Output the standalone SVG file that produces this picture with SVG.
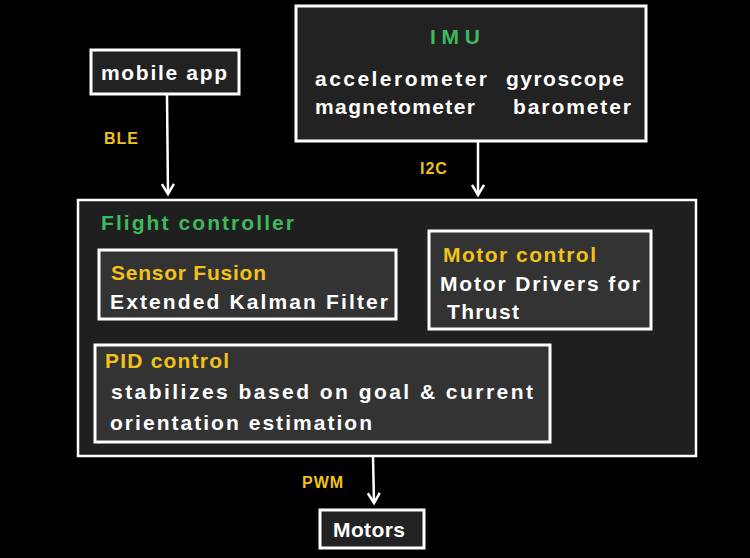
<svg xmlns="http://www.w3.org/2000/svg" width="750" height="558" viewBox="0 0 750 558">
<style>
.box{fill:#222222;stroke:#ffffff;stroke-width:3}
.outer{fill:#1f1f1f;stroke:#ffffff;stroke-width:2.5}
.inner{fill:#333333;stroke:#ffffff;stroke-width:3}
.t{font-family:"Liberation Sans",Arial,sans-serif;font-size:21px;font-weight:bold;fill:#ffffff}
.g{fill:#3dba5c}
.y{fill:#f2c21b}
.lbl{font-family:"Liberation Sans",Arial,sans-serif;font-size:16px;font-weight:bold;fill:#f2c21b;letter-spacing:1px}
.conn{stroke:#ffffff;stroke-width:2.5;fill:none}
</style>
<defs>
<marker id="ah" markerWidth="14" markerHeight="14" refX="11" refY="7" orient="auto" markerUnits="userSpaceOnUse" viewBox="0 0 14 14">
<path d="M1,1 L11,7 L1,13" fill="none" stroke="#ffffff" stroke-width="2.5"/>
</marker>
</defs>
<rect x="0" y="0" width="750" height="558" fill="#000000"/>
<g id="connectors">
<line class="conn" x1="167" y1="95" x2="168" y2="194" marker-end="url(#ah)"/>
<line class="conn" x1="478" y1="142" x2="478" y2="195" marker-end="url(#ah)"/>
<line class="conn" x1="373" y1="457" x2="374" y2="503" marker-end="url(#ah)"/>
<text class="lbl" x="104" y="144">BLE</text>
<text class="lbl" x="420" y="174">I2C</text>
<text class="lbl" x="302" y="488">PWM</text>
</g>
<g id="mobile-app">
<rect class="box" x="91" y="50" width="148" height="44"/>
<text class="t" x="101" y="80" textLength="126">mobile app</text>
</g>
<g id="imu">
<rect class="box" x="296" y="6" width="350" height="135"/>
<text class="t g" x="430" y="44" textLength="50">IMU</text>
<text class="t" x="315" y="86" textLength="172">accelerometer</text>
<text class="t" x="506" y="86" textLength="118">gyroscope</text>
<text class="t" x="315" y="114" textLength="160">magnetometer</text>
<text class="t" x="513" y="114" textLength="118">barometer</text>
</g>
<g id="flight-controller">
<rect class="outer" x="78" y="200" width="618" height="256"/>
<text class="t g" x="101" y="230" textLength="193">Flight controller</text>
</g>
<g id="sensor-fusion">
<rect class="inner" x="99" y="250" width="297" height="69"/>
<text class="t y" x="111" y="280" textLength="155">Sensor Fusion</text>
<text class="t" x="110" y="309" textLength="278">Extended Kalman Filter</text>
</g>
<g id="motor-control">
<rect class="inner" x="429" y="231" width="222" height="98"/>
<text class="t y" x="443" y="262" textLength="153">Motor control</text>
<text class="t" x="440" y="291" textLength="200">Motor Drivers for</text>
<text class="t" x="447" y="319" textLength="72">Thrust</text>
</g>
<g id="pid-control">
<rect class="inner" x="95" y="345" width="455" height="97"/>
<text class="t y" x="105" y="368" textLength="124">PID control</text>
<text class="t" x="111" y="399" textLength="422">stabilizes based on goal &amp; current</text>
<text class="t" x="110" y="430" textLength="262">orientation estimation</text>
</g>
<g id="motors">
<rect class="box" x="320" y="510" width="104" height="38"/>
<text class="t" x="333" y="537" textLength="72">Motors</text>
</g>
</svg>
